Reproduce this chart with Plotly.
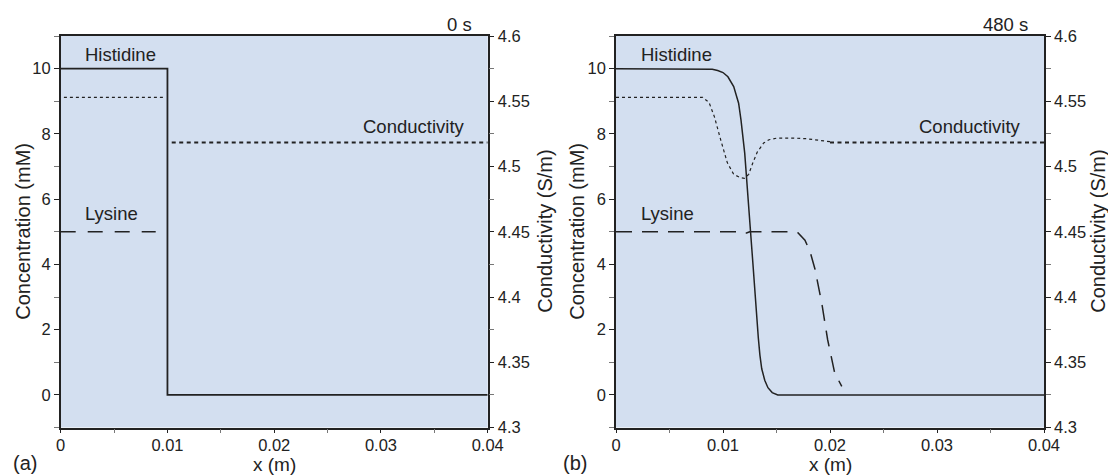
import plotly.graph_objects as go

W, H = 1108, 475

# ---------------- data: panel (a), t = 0 s ----------------
a_his_x = [0, 0.01, 0.01, 0.04]
a_his_y = [10, 10, 0, 0]
a_lys_x = [0, 0.0089]
a_lys_y = [5, 5]
a_cond1_x = [0.0003, 0.0098]
a_cond1_y = [4.553, 4.553]
a_cond2_x = [0.0104, 0.04]
a_cond2_y = [4.5183, 4.5183]

# ---------------- data: panel (b), t = 480 s ----------------
b_his_x = [0, 0.0084, 0.0090, 0.0095, 0.0100, 0.01046, 0.0110, 0.01146, 0.01168, 0.01203,
           0.01221, 0.01256, 0.01279, 0.0130, 0.01315, 0.0133, 0.01345, 0.01362, 0.0139,
           0.0142, 0.0146, 0.01512, 0.04]
b_his_y = [10, 10, 9.98, 9.94, 9.88, 9.75, 9.45, 8.94, 8.43, 7.41,
           6.69, 5.06, 4.05, 3.0, 2.35, 1.75, 1.22, 0.80, 0.45,
           0.22, 0.07, 0, 0]
b_lys_x = [0, 0.0113, 0.0116, 0.0122, 0.0125, 0.0164, 0.0170, 0.01766, 0.01813, 0.0186,
           0.01907, 0.01928, 0.01978, 0.0201, 0.02044, 0.0211]
b_lys_y = [5, 5, 4.96, 4.96, 5, 5, 4.97, 4.74, 4.40, 3.85,
           3.07, 2.71, 1.69, 1.15, 0.67, 0.26]
b_cond1_x = [0, 0.0081, 0.0087, 0.0092, 0.0098, 0.0104, 0.0110, 0.0116, 0.0120, 0.0124,
             0.0128, 0.0132, 0.0138, 0.0143, 0.0150, 0.0165, 0.0178, 0.0190, 0.0200]
b_cond1_y = [4.553, 4.553, 4.549, 4.538, 4.520, 4.503, 4.494, 4.4915, 4.491, 4.494,
             4.503, 4.511, 4.518, 4.5205, 4.5217, 4.5218, 4.5213, 4.520, 4.519]
b_cond2_x = [0.0200, 0.04]
b_cond2_y = [4.5183, 4.5183]

x_ticks = [0, 0.01, 0.02, 0.03, 0.04]
x_tick_text = ["0", "0.01", "0.02", "0.03", "0.04"]
c_ticks = [0, 2, 4, 6, 8, 10]
s_ticks = [4.3, 4.35, 4.4, 4.45, 4.5, 4.55, 4.6]
s_tick_text = ["4.3", "4.35", "4.4", "4.45", "4.5", "4.55", "4.6"]

# ---------------- layout geometry (pixels) ----------------
FONT = "Liberation Sans, Arial, sans-serif"
INK = "#222222"
BG = "#d3dff0"
top_px, bot_px = 36, 427.5
a_l, a_r = 60.7, 487.7
b_l, b_r = 616, 1044

def px(x):
    return x / W

def py(y):
    return 1 - y / H

ydom = [py(bot_px), py(top_px)]

fig = go.Figure()

def add(x, y, xa, ya, width, dash):
    fig.add_trace(go.Scatter(x=x, y=y, xaxis=xa, yaxis=ya, mode="lines",
                             line=dict(color=INK, width=width, dash=dash),
                             showlegend=False, hoverinfo="skip"))

# panel a
add(a_his_x, a_his_y, "x", "y", 1.8, "solid")
add(a_lys_x, a_lys_y, "x", "y", 1.6, "15px,12px")
add(a_cond1_x, a_cond1_y, "x", "y2", 1.2, "3px,3px")
add(a_cond2_x, a_cond2_y, "x", "y2", 2.0, "4px,3.5px")
# panel b
add(b_his_x, b_his_y, "x2", "y3", 1.5, "solid")
add(b_lys_x, b_lys_y, "x2", "y3", 1.5, "16px,10px")
add(b_cond1_x, b_cond1_y, "x2", "y4", 1.2, "3px,3px")
add(b_cond2_x, b_cond2_y, "x2", "y4", 2.0, "4px,3.5px")

tickfont = dict(family=FONT, size=16.5, color=INK)

def xaxis(dom, anchor):
    return dict(domain=dom, anchor=anchor, range=[0, 0.04], tickvals=x_ticks,
                ticktext=x_tick_text, ticks="outside", ticklen=4, tickwidth=1.2,
                tickcolor=INK, tickfont=tickfont, showline=True, linecolor=INK,
                linewidth=1.5, mirror=True, showgrid=False, zeroline=False,
                automargin=False, ticklabelstandoff=-2,
                minor=dict(tickvals=[0.005, 0.015, 0.025, 0.035], ticks="outside",
                           ticklen=4, tickcolor="#777777", tickwidth=1))

def yleft(anchor):
    return dict(domain=ydom, anchor=anchor, range=[-1, 11], tickvals=c_ticks,
                ticks="outside", ticklen=5, tickwidth=1.2, tickcolor=INK,
                tickfont=tickfont, showline=True, linecolor=INK, linewidth=1.5,
                showgrid=False, zeroline=False, automargin=False,
                minor=dict(tickvals=[-1, 1, 3, 5, 7, 9, 11], ticks="outside",
                           ticklen=5, tickcolor="#777777", tickwidth=1))

def yright(anchor, over):
    return dict(domain=ydom, anchor=anchor, overlaying=over, side="right",
                range=[4.3, 4.6], tickvals=s_ticks, ticktext=s_tick_text,
                ticks="outside", ticklen=5, tickwidth=1.2, tickcolor=INK,
                tickfont=tickfont, showline=True, linecolor=INK, linewidth=1.5,
                showgrid=False, zeroline=False, automargin=False,
                minor=dict(tickvals=[4.325, 4.375, 4.425, 4.475, 4.525, 4.575],
                           ticks="outside", ticklen=5, tickcolor="#777777", tickwidth=1))

ann = []

def text(x, y, s, size, xanchor="center", yanchor="middle", angle=0):
    ann.append(dict(x=px(x), y=py(y), xref="paper", yref="paper", text=s,
                    showarrow=False, xanchor=xanchor, yanchor=yanchor, borderpad=0,
                    textangle=angle, font=dict(family=FONT, size=size, color=INK)))

for (l, r, tlabel, panel, plab_x, ltitle_x, rtitle_x) in [
        (a_l, a_r, "0 s", "(a)", 11.7, 23, 545),
        (b_l, b_r, "480 s", "(b)", 561.7, 577, 1098)]:
    sx = (r - l) / 0.04
    sy = (bot_px - top_px) / 12.0
    def dx(v):
        return l + v * sx
    def dy(v):
        return top_px + (11 - v) * sy
    text(dx(0.0022), dy(10.44), "Histidine", 18.5, xanchor="left")
    text(dx(0.0022), dy(5.57), "Lysine", 18.5, xanchor="left")
    text(dx(0.03797), dy(8.22), "Conductivity", 18.5, xanchor="right")
    text(r - 15, 25, tlabel, 18.5, xanchor="right")
    text(plab_x, 463, panel, 20, xanchor="left")
    text((l + r) / 2, 464, "x (m)", 19)
    text(ltitle_x, (top_px + bot_px) / 2, "Concentration (mM)", 20, angle=-90)
    text(rtitle_x, (top_px + bot_px) / 2, "Conductivity (S/m)", 20, angle=-90)

fig.update_layout(
    width=W, height=H, autosize=False,
    margin=dict(l=0, r=0, t=0, b=0),
    paper_bgcolor="white", plot_bgcolor=BG,
    template="none",
    showlegend=False,
    xaxis=xaxis([px(a_l), px(a_r)], "y"),
    yaxis=yleft("x"),
    yaxis2=yright("x", "y"),
    xaxis2=xaxis([px(b_l), px(b_r)], "y3"),
    yaxis3=yleft("x2"),
    yaxis4=yright("x2", "y3"),
    annotations=ann,
)

fig.write_html("out.html")
